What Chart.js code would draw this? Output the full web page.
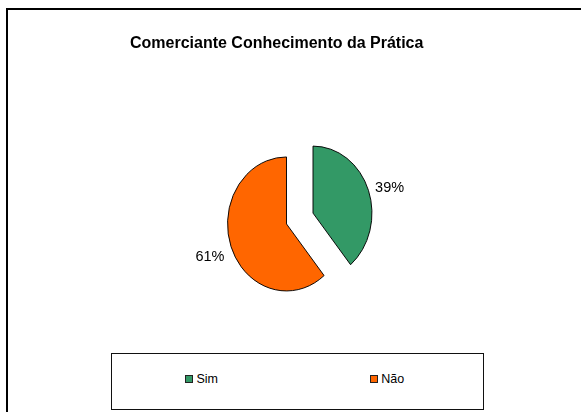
<!DOCTYPE html>
<html>
<head>
<meta charset="utf-8">
<script src="https://cdn.jsdelivr.net/npm/chart.js@4"></script>
<style>
  body { margin: 0; background: #fff; font-family: 'Liberation Sans', Arial, sans-serif; }
  #wrap { position: relative; width: 581px; height: 412px; overflow: hidden; }
  #moldura { position: absolute; left: 6px; top: 8px; width: 700px; height: 500px;
             border-left: 2px solid #000; border-top: 2px solid #000; }
  #grafico { position: absolute; left: 0; top: 0; }
  #legenda { position: absolute; left: 111px; top: 353px; width: 373px; height: 57px;
             box-sizing: border-box; border: 1px solid #111; background: #fff;
             display: grid; grid-template-columns: 1fr 1fr; align-items: center;
             font-size: 12.5px; color: #000; padding-bottom: 6px; }
  #legenda div { display: flex; align-items: center; justify-content: center; padding-right: 6px; }
  #legenda span.q { display: inline-block; width: 6px; height: 6px; border: 1px solid #222; margin-right: 3px; }
</style>
</head>
<body>
<div id="wrap">
  <div id="moldura"></div>
  <canvas id="grafico" width="581" height="412"></canvas>
  <div id="legenda"></div>
</div>
<script>
// dados
const titulo = 'Comerciante Conhecimento da Prática';
const categorias = ['Sim', 'Não'];
const percentuais = [39, 61];
const cores = ['#339966', '#FF6600'];

const achatamento = 0.88; // pizza do Excel sai meio oval
const destaque = [0, 32]; // px que a fatia sai do centro
const fonte = "'Liberation Sans', Arial, sans-serif";

// legenda em html (caixa com borda igual ao Excel)
const leg = document.getElementById('legenda');
categorias.forEach((cat, i) => {
    const item = document.createElement('div');
    const q = document.createElement('span');
    q.className = 'q';
    q.style.background = cores[i];
    item.appendChild(q);
    item.appendChild(document.createTextNode(cat));
    leg.appendChild(item);
});

const pizzaOval = {
    id: 'pizzaOval',
    afterDatasetsUpdate(chart) {
        // o offset do chart.js mexe no raio, entao desloco o centro da fatia na mao
        chart.getDatasetMeta(0).data.forEach((arc, i) => {
            const meio = (arc.startAngle + arc.endAngle) / 2;
            arc.x += Math.cos(meio) * destaque[i];
            arc.y += Math.sin(meio) * destaque[i];
        });
    },
    beforeDatasetsDraw(chart) {
        const cx = chart.getDatasetMeta(0).data[0].x;
        const ctx = chart.ctx;
        ctx.save();
        ctx.translate(cx, 0);
        ctx.scale(achatamento, 1);
        ctx.translate(-cx, 0);
    },
    afterDatasetsDraw(chart) {
        const ctx = chart.ctx;
        ctx.restore();
        const cx = chart.getDatasetMeta(0).data[0].x;
        // rótulos de porcentagem fora das fatias
        ctx.save();
        ctx.font = '14.5px ' + fonte;
        ctx.fillStyle = '#000';
        chart.getDatasetMeta(0).data.forEach((arc, i) => {
            const meio = (arc.startAngle + arc.endAngle) / 2;
            const r = arc.outerRadius + 8;
            const x = cx + (arc.x - cx + Math.cos(meio) * r) * achatamento;
            const y = arc.y + Math.sin(meio) * r;
            ctx.textAlign = Math.cos(meio) >= 0 ? 'left' : 'right';
            ctx.textBaseline = Math.sin(meio) > 0 ? 'top' : 'middle';
            ctx.fillText(percentuais[i] + '%', x, y);
        });
        ctx.restore();
    }
};

new Chart(document.getElementById('grafico'), {
    type: 'pie',
    data: {
        labels: categorias,
        datasets: [{
            data: percentuais,
            backgroundColor: cores,
            borderColor: '#000',
            borderWidth: 1,
            hoverOffset: 0
        }]
    },
    options: {
        responsive: false,
        animation: false,
        radius: 67,
        layout: { padding: { left: 130, right: 85, top: 0, bottom: 49 } },
        plugins: {
            legend: { display: false },
            tooltip: { enabled: false },
            title: {
                display: true,
                text: titulo,
                align: 'start',
                color: '#000',
                font: { family: fonte, size: 16, weight: 'bold' },
                padding: { top: 34, bottom: 10 }
            }
        }
    },
    plugins: [pizzaOval]
});
</script>
</body>
</html>
